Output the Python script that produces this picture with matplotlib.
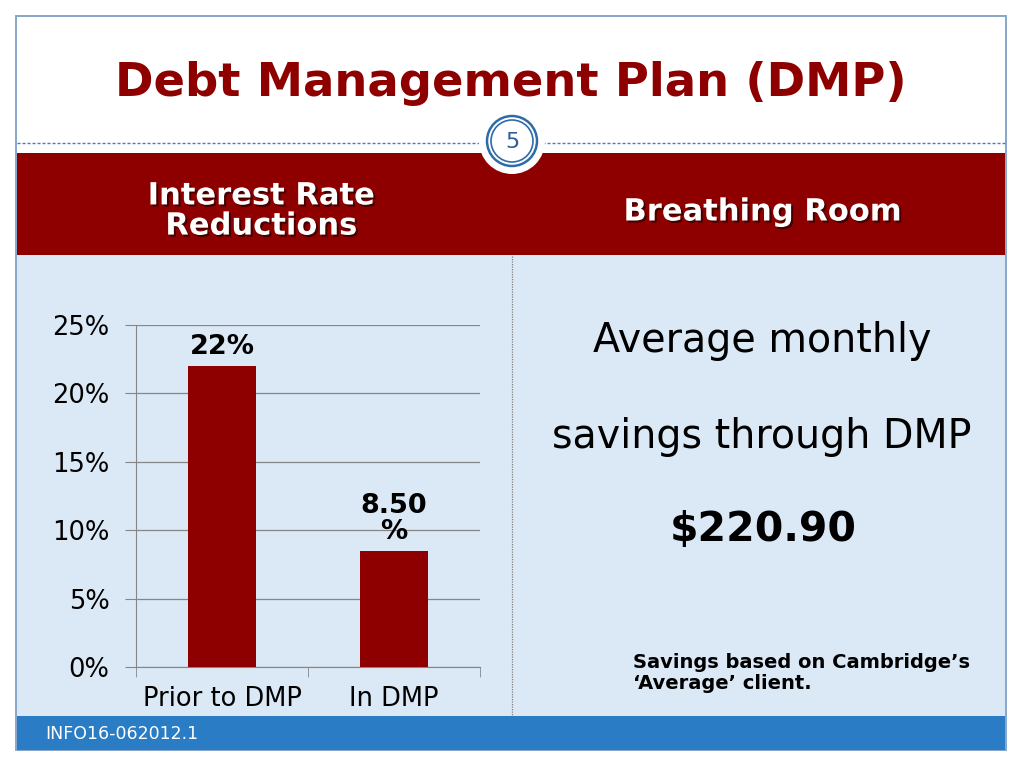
import matplotlib
matplotlib.use('Agg')
import matplotlib.pyplot as plt
import matplotlib.patches as patches
import matplotlib.patheffects as pe

# data
categories = ['Prior to DMP', 'In DMP']
rates = [0.22, 0.085]
bar_labels = ['22%', '8.50\n%']
yticks = [0, 0.05, 0.10, 0.15, 0.20, 0.25]
ytick_labels = ['0%', '5%', '10%', '15%', '20%', '25%']

title = 'Debt Management Plan (DMP)'
left_head = 'Interest Rate\nReductions'
right_head = 'Breathing Room'
right_lines = ['Average monthly', 'savings through DMP']
savings = '$220.90'
note = 'Savings based on Cambridge\u2019s\n\u2018Average\u2019 client.'
footer = 'INFO16-062012.1'
slide_no = '5'

red = '#8E0000'
panel = '#DBE8F5'
blue = '#2A7DC4'

plt.rcParams['font.family'] = 'DejaVu Sans'

fig = plt.figure(figsize=(10.24, 7.68), dpi=100)
bg = fig.add_axes([0, 0, 1, 1])
bg.set_xlim(0, 1024)
bg.set_ylim(768, 0)
bg.axis('off')

# slide frame
bg.add_patch(patches.Rectangle((16, 16), 990, 734, fc='white', ec='#86A6CA', lw=1.4))
bg.add_patch(patches.Rectangle((17, 153), 988, 102, fc=red, ec='none'))
bg.add_patch(patches.Rectangle((17, 255), 988, 461, fc=panel, ec='none'))
bg.add_patch(patches.Rectangle((17, 716), 988, 34, fc=blue, ec='none'))
bg.plot([17, 1005], [143, 143], ls=(0, (2.2, 1.4)), color='#4A7EBB', lw=1.0)
bg.plot([512, 512], [256, 716], ls=(0, (1, 1)), color='#7F7F7F', lw=0.9)

# slide number badge
bg.add_patch(patches.Circle((512, 141), 33, fc='white', ec='none', zorder=3))
bg.add_patch(patches.Circle((512, 141), 25, fc='white', ec='#2E6BA8', lw=1.8, zorder=4))
bg.add_patch(patches.Circle((512, 141), 21, fc='white', ec='#2E6BA8', lw=1.2, zorder=4))
bg.text(512, 142, slide_no, ha='center', va='center', fontsize=16, color='#2E5F93', zorder=5)

bg.text(511, 83, title, ha='center', va='center', fontsize=33.5, fontweight='bold', color=red)

shadow = [pe.SimplePatchShadow(offset=(1.5, -1.5), shadow_rgbFace='black', alpha=0.5), pe.Normal()]
bg.text(261, 211, left_head, ha='center', va='center', fontsize=22, fontweight='bold',
        color='white', linespacing=1.05, path_effects=shadow)
bg.text(762, 212, right_head, ha='center', va='center', fontsize=22, fontweight='bold',
        color='white', path_effects=shadow)

bg.text(762, 341, right_lines[0], ha='center', va='center', fontsize=28.5, color='black')
bg.text(762, 437, right_lines[1], ha='center', va='center', fontsize=28.5, color='black')
bg.text(763, 530, savings, ha='center', va='center', fontsize=29.5, fontweight='bold', color='black')
bg.text(633, 673, note, ha='left', va='center', fontsize=14, fontweight='bold',
        color='black', linespacing=1.12)
bg.text(45, 734, footer, ha='left', va='center', fontsize=12.5, color='white')

# bar chart
ax = fig.add_axes([136 / 1024, (768 - 667) / 768, 344 / 1024, (667 - 325) / 768])
ax.patch.set_alpha(0)
x = list(range(len(categories)))
bars = ax.bar(x, rates, width=0.4, color=red, zorder=3)
ax.set_xlim(-0.5, 1.5)
ax.set_ylim(0, 0.25)
ax.set_yticks(yticks)
ax.set_yticklabels(ytick_labels, fontsize=18.5)
ax.set_xticks(x)
ax.set_xticklabels(categories, fontsize=18.5)
ax.set_xticks([-0.5, 0.5, 1.5], minor=True)
ax.tick_params(axis='x', which='major', length=0, pad=14)
ax.tick_params(axis='x', which='minor', length=7, color='#868686', direction='out')
ax.tick_params(axis='y', length=8, color='#868686', pad=11)
ax.grid(axis='y', color='#868686', lw=0.9, zorder=0)
for s in ['top', 'right']:
    ax.spines[s].set_visible(False)
for s in ['left', 'bottom']:
    ax.spines[s].set_color('#868686')
for b, lab in zip(bars, bar_labels):
    ax.annotate(lab, (b.get_x() + b.get_width() / 2, b.get_height()), xytext=(0, 4),
                textcoords='offset points', ha='center', va='bottom', fontsize=19.5,
                fontweight='bold', linespacing=1.0)

fig.savefig('out.png', dpi=100)
